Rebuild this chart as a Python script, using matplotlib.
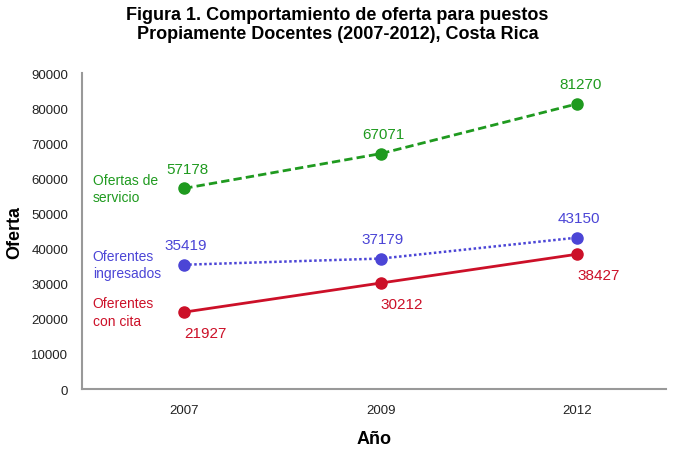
import matplotlib.pyplot as plt

plt.rcParams['font.family'] = ['Liberation Sans', 'DejaVu Sans']

# data
years = ['2007', '2009', '2012']
ofertas_servicio = [57178, 67071, 81270]
oferentes_ingresados = [35419, 37179, 43150]
oferentes_cita = [21927, 30212, 38427]
y_ticks = [0, 10000, 20000, 30000, 40000, 50000, 60000, 70000, 80000, 90000]

green = '#1f9a1f'
blue = '#4b45d6'
red = '#cc1028'

fig = plt.figure(figsize=(6.75, 4.52), dpi=100)
ax = fig.add_axes([0.1215, 0.137, 0.865, 0.699])
x = list(range(len(years)))

ax.plot(x, ofertas_servicio, color=green, lw=2, ls=(0, (3, 1.5)), marker='o', ms=8)
ax.plot(x, oferentes_ingresados, color=blue, lw=1.8, ls=(0, (1, 1)), marker='o', ms=8)
ax.plot(x, oferentes_cita, color=red, lw=2, ls='-', marker='o', ms=8)

# value labels
for i, v in enumerate(ofertas_servicio):
    ax.annotate(str(v), (i, v), xytext=(2, 9), textcoords='offset points',
                ha='center', va='bottom', color=green, fontsize=11)
for i, v in enumerate(oferentes_ingresados):
    ax.annotate(str(v), (i, v), xytext=(1, 9), textcoords='offset points',
                ha='center', va='bottom', color=blue, fontsize=11)
for i, v in enumerate(oferentes_cita):
    ax.annotate(str(v), (i, v), xytext=(15, -10), textcoords='offset points',
                ha='center', va='top', color=red, fontsize=11)

# series names at the left
ax.text(-0.465, 57178, 'Ofertas de\nservicio', color=green, fontsize=10,
        ha='left', va='center', linespacing=1.3)
ax.text(-0.465, 35419, 'Oferentes\ningresados', color=blue, fontsize=10,
        ha='left', va='center', linespacing=1.3)
ax.text(-0.465, 21927, 'Oferentes\ncon cita', color=red, fontsize=10,
        ha='left', va='center', linespacing=1.3)

ax.set_xlim(-0.52, 2.45)
ax.set_ylim(0, 90000)
ax.set_xticks(x)
ax.set_xticklabels(years)
ax.set_yticks(y_ticks)
ax.tick_params(axis='both', length=0, labelsize=9.5, colors='#222222')
ax.tick_params(axis='x', pad=11)
ax.tick_params(axis='y', pad=10)

for s in ['top', 'right']:
    ax.spines[s].set_visible(False)
for s in ['left', 'bottom']:
    ax.spines[s].set_color('#999999')
    ax.spines[s].set_linewidth(1.5)

ax.set_ylabel('Oferta', fontsize=13, fontweight='bold', labelpad=6)
ax.set_xlabel('Año', fontsize=13, fontweight='bold', labelpad=10)

fig.text(0.5, 0.985, 'Figura 1. Comportamiento de oferta para puestos\n'
         'Propiamente Docentes (2007-2012), Costa Rica',
         ha='center', va='top', fontsize=13, fontweight='bold', linespacing=1.2)

plt.savefig('out.png', dpi=100)
plt.close()
